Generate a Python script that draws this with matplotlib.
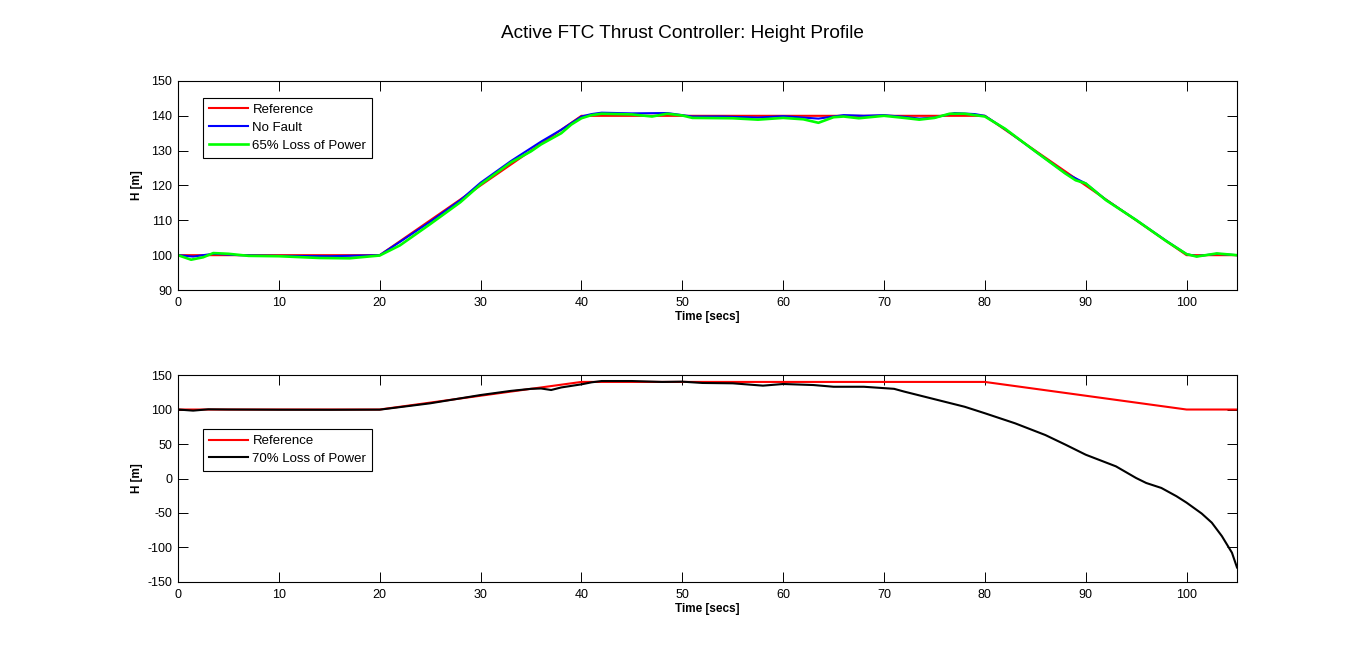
#!/usr/bin/env python3
"""Active FTC thrust controller: height profile, two stacked panels."""

import matplotlib

matplotlib.use("Agg")
import matplotlib.pyplot as plt

# reference trajectory
T_REF = [0, 20, 40, 80, 100, 105]
H_REF = [100, 100, 140, 140, 100, 100]

# no fault response
T_NOFAULT = [0, 1.5, 3.5, 6, 10, 15, 20, 22, 25, 28,
             30, 33, 36, 38, 40, 41, 42, 45, 48.5, 51,
             54, 57.5, 60, 63.5, 66, 68, 70, 72, 73.5, 75,
             77, 79, 80, 82, 85, 88, 90, 92, 95, 98,
             100, 101, 103, 105]
H_NOFAULT = [100, 99.6, 100.4, 100.0, 99.8, 99.7, 100.0, 103.8, 109.6, 115.8,
             120.8, 127.0, 132.6, 136.0, 139.8, 140.5, 140.9, 140.7, 140.8, 139.8,
             139.8, 139.5, 139.9, 139.2, 140.2, 140.0, 140.2, 139.7, 139.2, 139.5,
             140.8, 140.5, 140.0, 136.2, 129.8, 123.5, 120.6, 115.9, 110.1, 104.1,
             100.3, 99.7, 100.4, 100.0]

# 65% loss of power
T_65 = [0, 1.3, 2.5, 3.5, 5, 7, 10, 14, 17, 20,
        22, 25, 28, 30, 32, 33, 35, 36, 38, 39,
        40, 41, 42, 45, 47, 48.5, 50, 51, 55, 57.5,
        60, 62, 63.5, 65, 66, 67.5, 70, 72, 73.5, 75,
        76.5, 78, 80, 82, 85, 88, 89, 90, 92, 95,
        98, 100, 101, 103, 105]
H_65 = [100, 98.7, 99.4, 100.6, 100.4, 99.8, 99.7, 99.2, 99.1, 99.9,
        102.8, 108.9, 115.2, 120.3, 124.5, 126.6, 129.8, 131.8, 135.0, 137.5,
        139.3, 140.2, 140.6, 140.4, 139.8, 140.6, 140.1, 139.4, 139.3, 138.9,
        139.4, 139.0, 138.0, 139.6, 139.8, 139.3, 140.0, 139.4, 138.9, 139.4,
        140.6, 140.6, 139.8, 136.3, 129.8, 123.4, 121.5, 120.6, 115.8, 110.1,
        104.0, 100.3, 99.6, 100.5, 100.0]

# 70% loss of power
T_70 = [0, 1.5, 3, 5, 10, 15, 20, 25, 30, 33,
        35, 36, 37, 38, 40, 41, 42, 45, 48, 50,
        52, 55, 58, 60, 63, 65, 68, 70, 71, 72,
        75, 78, 80, 83, 86, 88, 90, 93, 95, 96,
        97.5, 99, 100, 101.5, 102.5, 103.5, 104.5, 105]
H_70 = [100, 98.4, 100.3, 100, 99.7, 99.6, 99.8, 109, 121, 127,
        130, 130.5, 128.3, 132, 136.5, 139.4, 141.3, 141.3, 140, 140.4,
        138.5, 138, 134.6, 137, 135.5, 133, 133, 131, 130, 126,
        115, 104, 94.6, 80, 63, 49, 34.5, 17.6, 0.7, -6.5,
        -13.7, -25.7, -35, -50.8, -64, -83.5, -107.6, -129]

X_TICKS = [0, 10, 20, 30, 40, 50, 60, 70, 80, 90, 100]
Y_TICKS_TOP = [90, 100, 110, 120, 130, 140, 150]
Y_TICKS_BOTTOM = [-150, -100, -50, 0, 50, 100, 150]

LW = 1.5


def style_axes(ax, xlabel_y):
    ax.tick_params(direction="in", length=7.5, width=0.7, top=True, right=True,
                   labelsize=9, pad=4)
    ax.tick_params(axis="x", pad=5)
    for spine in ax.spines.values():
        spine.set_linewidth(0.8)
    ax.set_xlabel("Time [secs]", fontsize=8.5, fontweight="bold")
    ax.set_ylabel("H [m]", fontsize=8.5, fontweight="bold")
    ax.xaxis.set_label_coords(0.5, xlabel_y)
    ax.yaxis.set_label_coords(-0.033, 0.5)


def add_legend(ax, top):
    leg = ax.legend(loc="upper left", bbox_to_anchor=(0.0236, top), fontsize=9.5,
                    fancybox=False, edgecolor="black", framealpha=1,
                    handlelength=3.0, borderpad=0.45, labelspacing=0.42,
                    handletextpad=0.3, borderaxespad=0)
    leg.get_frame().set_linewidth(0.8)


plt.rcParams["font.family"] = ["Liberation Sans", "DejaVu Sans"]
plt.rcParams["axes.unicode_minus"] = False

fig = plt.figure(figsize=(13.67, 6.52), dpi=100)
ax1 = fig.add_axes([0.1302, 0.5552, 0.7747, 0.3206])
ax2 = fig.add_axes([0.1302, 0.1074, 0.7747, 0.3174])

ax1.plot(T_REF, H_REF, color="#ff0000", lw=LW, label="Reference")
ax1.plot(T_NOFAULT, H_NOFAULT, color="#0000ff", lw=LW, label="No Fault")
ax1.plot(T_65, H_65, color="#00ff00", lw=1.9, label="65% Loss of Power")
ax1.set_xlim(0, 105)
ax1.set_ylim(90, 150)
ax1.set_xticks(X_TICKS)
ax1.set_yticks(Y_TICKS_TOP)
style_axes(ax1, -0.10)
add_legend(ax1, 0.919)

ax2.plot(T_REF, H_REF, color="#ff0000", lw=LW, label="Reference")
ax2.plot(T_70, H_70, color="black", lw=LW, label="70% Loss of Power")
ax2.set_xlim(0, 105)
ax2.set_ylim(-150, 150)
ax2.set_xticks(X_TICKS)
ax2.set_yticks(Y_TICKS_BOTTOM)
style_axes(ax2, -0.10)
add_legend(ax2, 0.739)

fig.text(0.4993, 0.949, "Active FTC Thrust Controller: Height Profile",
         ha="center", va="center", fontsize=13.7)

fig.savefig("out.png", dpi=100, facecolor="white")
plt.close(fig)
